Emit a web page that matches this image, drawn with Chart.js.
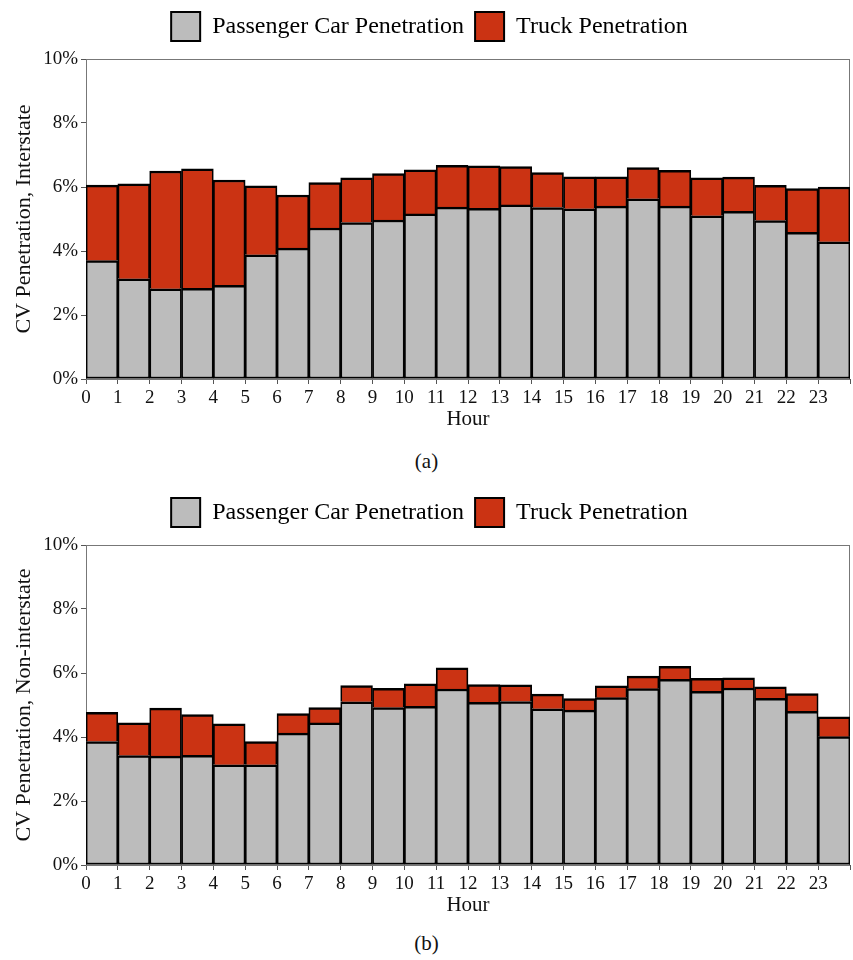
<!DOCTYPE html>
<html>
<head>
<meta charset="utf-8">
<script src="https://cdn.jsdelivr.net/npm/chart.js@4/dist/chart.umd.min.js"></script>
<style>
  html, body { margin: 0; padding: 0; background: #fff; }
  body { width: 853px; height: 960px; position: relative; overflow: hidden; font-family: 'Liberation Serif', 'Times New Roman', serif; }
  .panel { position: absolute; left: 0; width: 853px; height: 440px; }
  .cap { position: absolute; left: 0; width: 853px; text-align: center; font-size: 21px; color: #111; }
</style>
</head>
<body>
<div class="panel" style="top:0px"><canvas id="c1"></canvas></div>
<div class="cap" style="top:449px">(a)</div>
<div class="panel" style="top:486px"><canvas id="c2"></canvas></div>
<div class="cap" style="top:931px">(b)</div>
<script>
const hours = [0,1,2,3,4,5,6,7,8,9,10,11,12,13,14,15,16,17,18,19,20,21,22,23];
const seriesNames = ['Passenger Car Penetration', 'Truck Penetration'];
const yTicks = [0,2,4,6,8,10];

const carInterstate   = [3.70,3.13,2.82,2.83,2.93,3.88,4.09,4.72,4.89,4.97,5.16,5.37,5.33,5.44,5.36,5.32,5.40,5.63,5.40,5.10,5.24,4.95,4.58,4.29];
const truckInterstate = [2.36,2.97,3.68,3.74,3.29,2.16,1.66,1.42,1.40,1.45,1.38,1.31,1.33,1.20,1.09,1.00,0.92,0.98,1.12,1.19,1.07,1.10,1.37,1.71];

const carNonInterstate   = [3.86,3.42,3.40,3.43,3.13,3.13,4.12,4.44,5.10,4.92,4.96,5.50,5.08,5.11,4.88,4.84,5.23,5.51,5.80,5.43,5.53,5.21,4.80,4.01];
const truckNonInterstate = [0.91,1.02,1.50,1.27,1.28,0.73,0.61,0.48,0.51,0.60,0.70,0.66,0.56,0.52,0.46,0.36,0.37,0.39,0.41,0.40,0.32,0.36,0.56,0.62];

const SERIF = "'Liberation Serif', 'Times New Roman', serif";
const GREY = '#BCBCBC';
const RED = '#CB3313';

const framePlugin = {
  id: 'frame',
  beforeLayout(chart) {
    const lg = chart.legend;
    if (lg && !lg._patched) {
      lg._patched = true;
      const origFit = lg.fit;
      lg.fit = function () { origFit.call(this); this.height += 8; };
    }
  },
  beforeDatasetsDraw(chart) {
    const a = chart.chartArea, ctx = chart.ctx;
    ctx.save();
    ctx.strokeStyle = '#777';
    ctx.lineWidth = 1;
    ctx.strokeRect(a.left + 0.5, a.top + 0.5, a.right - a.left - 1, a.bottom - a.top);
    ctx.restore();
  }
};

function makeChart(id, car, truck, yTitle) {
  const toPts = arr => hours.map((h, i) => ({ x: h + 0.5, y: arr[i] }));
  return new Chart(document.getElementById(id), {
    type: 'bar',
    data: {
      datasets: [
        { label: seriesNames[0], data: toPts(car), backgroundColor: GREY, borderColor: '#000',
          borderWidth: { left: 1.75, right: 1.75, top: 2.5, bottom: 2 }, borderSkipped: false,
          barPercentage: 1, categoryPercentage: 1 },
        { label: seriesNames[1], data: toPts(truck), backgroundColor: RED, borderColor: '#000',
          borderWidth: { left: 1.75, right: 1.75, top: 2.5, bottom: 0 }, borderSkipped: false,
          barPercentage: 1, categoryPercentage: 1 }
      ]
    },
    options: {
      responsive: true,
      maintainAspectRatio: false,
      animation: false,
      layout: { padding: { left: 7, right: 1, top: 1, bottom: 4 } },
      plugins: {
        tooltip: { enabled: false },
        legend: {
          display: true,
          position: 'top',
          labels: {
            boxWidth: 29, boxHeight: 29, padding: 11,
            color: '#111',
            font: { family: SERIF, size: 24 },
            generateLabels(chart) {
              return chart.data.datasets.map((d, i) => ({
                text: d.label, fillStyle: d.backgroundColor, strokeStyle: '#000',
                lineWidth: 2, hidden: false, datasetIndex: i
              }));
            }
          }
        }
      },
      scales: {
        x: {
          type: 'linear', stacked: true, offset: false,
          min: 0, max: 24,
          afterFit(scale) { scale.height = 57; },
          ticks: {
            stepSize: 1, autoSkip: false, maxRotation: 0, padding: 3,
            color: '#111', font: { family: SERIF, size: 19 },
            callback: v => (v === 24 ? '' : String(v))
          },
          grid: { display: true, drawOnChartArea: false, drawTicks: true, tickLength: 5, color: '#555', offset: false },
          border: { display: true, color: '#555', width: 1 },
          title: { display: true, text: 'Hour', color: '#111', font: { family: SERIF, size: 21 }, padding: { top: 4, bottom: 4 } }
        },
        y: {
          stacked: true, min: 0, max: 10,
          afterFit(scale) { scale.width = 79; },
          afterBuildTicks(scale) { scale.ticks = yTicks.map(v => ({ value: v })); },
          ticks: {
            padding: 3, color: '#111', font: { family: SERIF, size: 19 },
            callback: v => v + '%'
          },
          grid: { display: true, drawOnChartArea: false, drawTicks: true, tickLength: 5, color: '#555' },
          border: { display: true, color: '#555', width: 1 },
          title: { display: true, text: yTitle, color: '#111', font: { family: SERIF, size: 22 }, padding: { top: 4, bottom: 4 } }
        }
      }
    },
    plugins: [framePlugin]
  });
}

makeChart('c1', carInterstate, truckInterstate, 'CV Penetration, Interstate');
makeChart('c2', carNonInterstate, truckNonInterstate, 'CV Penetration, Non-interstate');
</script>
</body>
</html>
